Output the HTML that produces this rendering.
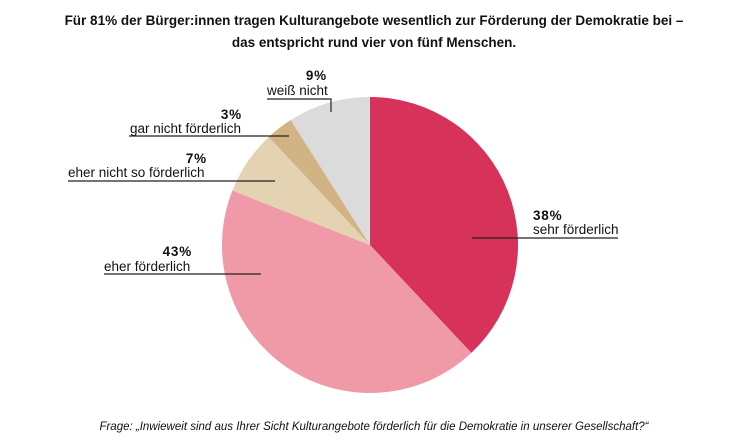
<!DOCTYPE html>
<html><head><meta charset="utf-8"><style>
body{margin:0;background:#fff;width:748px;height:440px;overflow:hidden;font-family:"Liberation Sans",sans-serif}
</style></head><body>
<svg width="748" height="440">
<text x="374" y="25" text-anchor="middle" font-size="13.5" font-weight="bold" fill="#111">Für 81% der Bürger:innen tragen Kulturangebote wesentlich zur Förderung der Demokratie bei –</text>
<text x="374" y="47" text-anchor="middle" font-size="13.5" font-weight="bold" fill="#111">das entspricht rund vier von fünf Menschen.</text>
<g id="slices"></g>
<g id="labels" font-size="13.5" fill="#111"></g>
<text x="374" y="430" text-anchor="middle" font-size="11.5" font-style="italic" fill="#111">Frage: „Inwieweit sind aus Ihrer Sicht Kulturangebote förderlich für die Demokratie in unserer Gesellschaft?“</text>
</svg>
<script>
const categories=["sehr förderlich","eher förderlich","eher nicht so förderlich","gar nicht förderlich","weiß nicht"];
const values=[38,43,7,3,9];
const colors=["#d6325a","#f09aa7","#e3d3b3","#d1b384","#dbdbdb"];
const cx=370,cy=245,r=148;
const NS="http://www.w3.org/2000/svg";
const g=document.getElementById('slices');
const total=values.reduce((a,b)=>a+b,0);
let a0=0;
values.forEach((v,i)=>{
 const a1=a0+v/total*2*Math.PI;
 const p=(a)=>[cx+r*Math.sin(a),cy-r*Math.cos(a)];
 const [x0,y0]=p(a0),[x1,y1]=p(a1);
 const path=document.createElementNS(NS,'path');
 path.setAttribute('d',`M${cx},${cy}L${x0},${y0}A${r},${r} 0 ${a1-a0>Math.PI?1:0} 1 ${x1},${y1}Z`);
 path.setAttribute('fill',colors[i]);
 
 
 g.appendChild(path);
 a0=a1;
});
const lay=[
 [533,'start',220,533,234,472,618,238],
 [192,'end',256,104,271,104,261,274],
 [207,'end',163,68,177,68,275,181],
 [242,'end',119,130,133,129,289,136],
 [327,'end',80,267,95,267,331,99]
];
const lg=document.getElementById('labels');
values.forEach((v,i)=>{
 const L=lay[i];
 const t1=document.createElementNS(NS,'text');
 t1.setAttribute('x',L[0]);t1.setAttribute('y',L[2]);t1.setAttribute('text-anchor',L[1]);
 t1.setAttribute('font-weight','bold');t1.setAttribute('letter-spacing','0.8');t1.textContent=v+'%';
 
 
 lg.appendChild(t1);
 const t2=document.createElementNS(NS,'text');
 t2.setAttribute('x',L[3]);t2.setAttribute('y',L[4]);t2.textContent=categories[i];
 
 
 lg.appendChild(t2);
 const ln=document.createElementNS(NS,'path');
 let d=`M${L[5]},${L[7]}H${L[6]}`;
 if(i===4) d+=`V112`;
 ln.setAttribute('d',d);ln.setAttribute('stroke','#222');ln.setAttribute('fill','none');ln.setAttribute('stroke-width','1.2');
 
 
 lg.appendChild(ln);
});
</script>
</body></html>
